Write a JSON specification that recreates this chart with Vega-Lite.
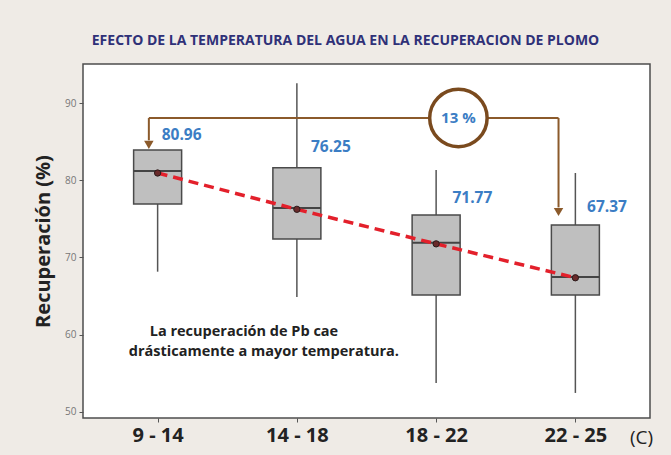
{
  "$schema": "https://vega.github.io/schema/vega-lite/v6.json",
  "autosize": {"type": "none"},
  "width": 567,
  "height": 354,
  "padding": {"left": 83, "top": 64, "right": 21, "bottom": 37},
  "background": "#efebe6",
  "title": {
    "text": "EFECTO DE LA TEMPERATURA DEL AGUA EN LA RECUPERACION DE PLOMO",
    "font": "Open Sans",
    "fontSize": 14,
    "fontWeight": "bold",
    "color": "#2f3178",
    "anchor": "middle",
    "dx": -21,
    "offset": 16
  },
  "config": {
    "view": {"fill": "white", "stroke": "#4d4d4d", "strokeWidth": 1.5},
    "axis": {"grid": false, "domain": false, "tickColor": "#555", "tickSize": 4}
  },
  "datasets": {
    "boxes": [
      {"grupo": "9 - 14", "x": 1, "low": 68.16, "q1": 76.94, "median": 81.22, "q3": 83.94, "high": 83.94, "mean": 80.96},
      {"grupo": "14 - 18", "x": 2, "low": 64.88, "q1": 72.4, "median": 76.42, "q3": 81.65, "high": 92.6, "mean": 76.25},
      {"grupo": "18 - 22", "x": 3, "low": 53.72, "q1": 65.14, "median": 71.92, "q3": 75.51, "high": 81.35, "mean": 71.77},
      {"grupo": "22 - 25", "x": 4, "low": 52.43, "q1": 65.14, "median": 67.47, "q3": 74.2, "high": 80.96, "mean": 67.37}
    ],
    "labels": [
      {"texto": "80.96", "x": 1.029, "y": 85.89},
      {"texto": "76.25", "x": 2.101, "y": 84.33},
      {"texto": "71.77", "x": 3.117, "y": 77.72},
      {"texto": "67.37", "x": 4.084, "y": 76.55}
    ],
    "bracket": [
      {"x": 0.937, "x2": 3.879, "y": 88.09, "y2": 88.09},
      {"x": 0.937, "x2": 0.937, "y": 88.09, "y2": 85.2},
      {"x": 3.879, "x2": 3.879, "y": 88.09, "y2": 76.5}
    ],
    "arrows": [
      {"x": 0.937, "y": 84.6},
      {"x": 3.879, "y": 75.9}
    ],
    "circulo": [
      {"x": 3.16, "y": 88.09, "texto": "13 %"}
    ],
    "nota": [
      {"x": 1.62, "y": 60.35, "texto": "La recuperación de Pb cae"},
      {"x": 1.763, "y": 57.76, "texto": "drásticamente a mayor temperatura."}
    ]
  },
  "layer": [
    {
      "data": {"name": "boxes"},
      "mark": {"type": "rule", "color": "#555", "strokeWidth": 1.5},
      "encoding": {
        "x": {
          "field": "x", "type": "quantitative",
          "scale": {"domain": [0.5, 4.5], "nice": false, "zero": false},
          "axis": {
            "values": [1, 2, 3, 4],
            "labelExpr": "datum.value == 1 ? '9 - 14' : datum.value == 2 ? '14 - 18' : datum.value == 3 ? '18 - 22' : '22 - 25'",
            "labelFont": "Open Sans", "labelFontSize": 20, "labelFontWeight": "bold", "labelColor": "#222",
            "labelPadding": 3,
            "title": "(C)", "titleFont": "Open Sans", "titleFontSize": 19, "titleFontWeight": "normal", "titleColor": "#222",
            "titleX": 558, "titleY": 19, "titleBaseline": "middle", "titleAlign": "center"
          }
        },
        "y": {
          "field": "low", "type": "quantitative",
          "scale": {"domain": [49.18, 95.1], "nice": false, "zero": false},
          "axis": {
            "values": [50, 60, 70, 80, 90],
            "labelFont": "Open Sans", "labelFontSize": 10, "labelColor": "#777",
            "labelPadding": 3,
            "title": "Recuperación (%)", "titleFont": "Open Sans", "titleFontSize": 20, "titleFontWeight": "bold", "titleColor": "#222",
            "titlePadding": 11
          }
        },
        "y2": {"field": "high"}
      }
    },
    {
      "data": {"name": "boxes"},
      "mark": {"type": "bar", "size": 48, "fill": "#bfbfbf", "stroke": "#4a4a4a", "strokeWidth": 1.5},
      "encoding": {
        "x": {"field": "x", "type": "quantitative"},
        "y": {"field": "q1", "type": "quantitative"},
        "y2": {"field": "q3"}
      }
    },
    {
      "data": {"name": "boxes"},
      "mark": {"type": "tick", "orient": "horizontal", "size": 48, "thickness": 2, "color": "#444", "opacity": 1},
      "encoding": {
        "x": {"field": "x", "type": "quantitative"},
        "y": {"field": "median", "type": "quantitative"}
      }
    },
    {
      "data": {"name": "boxes"},
      "mark": {"type": "line", "color": "#e3202b", "strokeWidth": 3.5, "strokeDash": [10, 6]},
      "encoding": {
        "x": {"field": "x", "type": "quantitative"},
        "y": {"field": "mean", "type": "quantitative"}
      }
    },
    {
      "data": {"name": "boxes"},
      "mark": {"type": "point", "shape": "circle", "size": 40, "filled": true, "fill": "#6a2a2a", "stroke": "#2a1a1a", "strokeWidth": 1, "opacity": 1},
      "encoding": {
        "x": {"field": "x", "type": "quantitative"},
        "y": {"field": "mean", "type": "quantitative"}
      }
    },
    {
      "data": {"name": "bracket"},
      "mark": {"type": "rule", "color": "#8b5a2b", "strokeWidth": 2},
      "encoding": {
        "x": {"field": "x", "type": "quantitative"},
        "x2": {"field": "x2"},
        "y": {"field": "y", "type": "quantitative"},
        "y2": {"field": "y2"}
      }
    },
    {
      "data": {"name": "arrows"},
      "mark": {"type": "point", "shape": "triangle-down", "size": 90, "filled": true, "fill": "#8b5a2b", "opacity": 1},
      "encoding": {
        "x": {"field": "x", "type": "quantitative"},
        "y": {"field": "y", "type": "quantitative"}
      }
    },
    {
      "data": {"name": "circulo"},
      "mark": {"type": "point", "shape": "circle", "size": 3300, "filled": true, "fill": "white", "stroke": "#7a4a1e", "strokeWidth": 3.5, "opacity": 1},
      "encoding": {
        "x": {"field": "x", "type": "quantitative"},
        "y": {"field": "y", "type": "quantitative"}
      }
    },
    {
      "data": {"name": "circulo"},
      "mark": {"type": "text", "font": "Open Sans", "fontSize": 15, "fontWeight": "bold", "color": "#3b7dc4", "align": "center", "baseline": "middle"},
      "encoding": {
        "x": {"field": "x", "type": "quantitative"},
        "y": {"field": "y", "type": "quantitative"},
        "text": {"field": "texto"}
      }
    },
    {
      "data": {"name": "labels"},
      "mark": {"type": "text", "font": "Open Sans", "fontSize": 15.5, "fontWeight": "bold", "color": "#3b7dc4", "align": "left", "baseline": "middle"},
      "encoding": {
        "x": {"field": "x", "type": "quantitative"},
        "y": {"field": "y", "type": "quantitative"},
        "text": {"field": "texto"}
      }
    },
    {
      "data": {"name": "nota"},
      "mark": {"type": "text", "font": "Open Sans", "fontSize": 14.5, "fontWeight": "bold", "color": "#222", "align": "center", "baseline": "middle"},
      "encoding": {
        "x": {"field": "x", "type": "quantitative"},
        "y": {"field": "y", "type": "quantitative"},
        "text": {"field": "texto"}
      }
    }
  ]
}
